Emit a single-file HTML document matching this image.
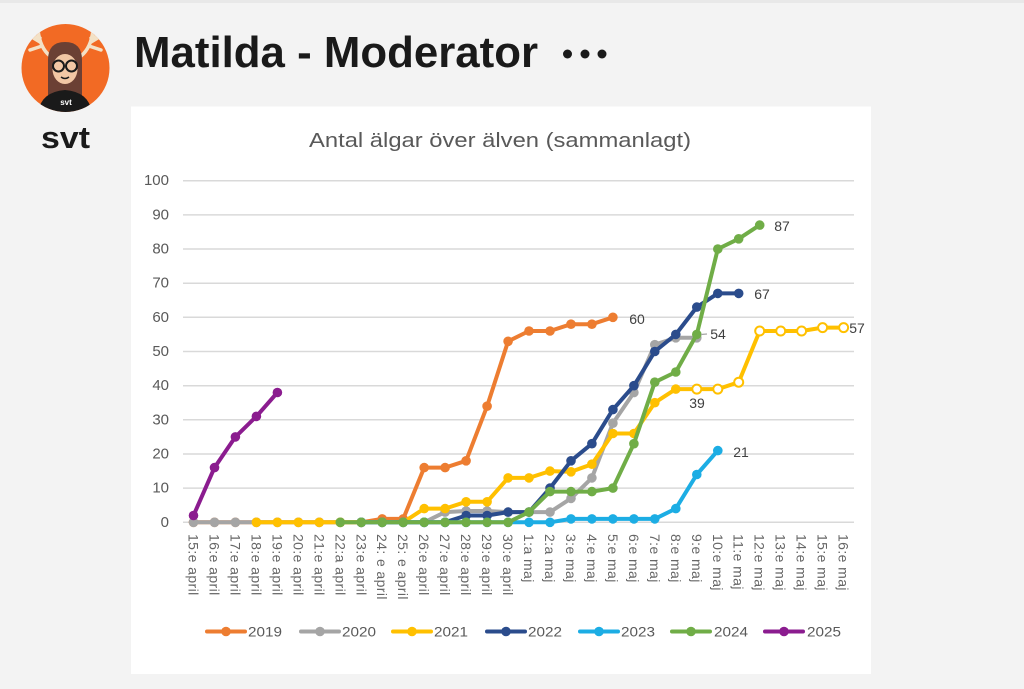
<!DOCTYPE html>
<html><head><meta charset="utf-8"><style>
html,body{margin:0;padding:0;background:#f3f3f3;}
svg{display:block;}
text{font-family:"Liberation Sans",sans-serif;}
</style></head><body>
<svg width="1024" height="689" viewBox="0 0 1024 689" xmlns="http://www.w3.org/2000/svg">
<defs>
<clipPath id="av"><circle cx="65.5" cy="68" r="44"/></clipPath>
<marker id="mo" markerWidth="12" markerHeight="12" refX="6" refY="6" markerUnits="userSpaceOnUse"><circle cx="6" cy="6" r="4.8" fill="#ED7D31"/></marker>
<marker id="mg" markerWidth="12" markerHeight="12" refX="6" refY="6" markerUnits="userSpaceOnUse"><circle cx="6" cy="6" r="4.8" fill="#A5A5A5"/></marker>
<marker id="my" markerWidth="12" markerHeight="12" refX="6" refY="6" markerUnits="userSpaceOnUse"><circle cx="6" cy="6" r="4.8" fill="#FFC000"/></marker>
<marker id="mb" markerWidth="12" markerHeight="12" refX="6" refY="6" markerUnits="userSpaceOnUse"><circle cx="6" cy="6" r="4.8" fill="#2B4C8C"/></marker>
<marker id="mc" markerWidth="12" markerHeight="12" refX="6" refY="6" markerUnits="userSpaceOnUse"><circle cx="6" cy="6" r="4.8" fill="#1CADE4"/></marker>
<marker id="mgr" markerWidth="12" markerHeight="12" refX="6" refY="6" markerUnits="userSpaceOnUse"><circle cx="6" cy="6" r="4.8" fill="#70AD47"/></marker>
<marker id="mp" markerWidth="12" markerHeight="12" refX="6" refY="6" markerUnits="userSpaceOnUse"><circle cx="6" cy="6" r="4.8" fill="#8B1C8F"/></marker>
</defs>

<rect x="0" y="0" width="1024" height="689" fill="#f3f3f3"/>
<rect x="0" y="0" width="1024" height="3" fill="#e8e8e8"/>

<!-- avatar -->
<circle cx="65.5" cy="68" r="44" fill="#F26A24"/>
<g clip-path="url(#av)">
  <path d="M50 56 Q40 48 38 30 M42 46 L30 50 M40 38 L34 36 M40 42 L30 36" stroke="#F3E1C6" stroke-width="3.5" stroke-linecap="round" fill="none"/>
  <path d="M81 56 Q91 48 93 30 M89 46 L101 50 M91 38 L97 36 M91 42 L101 36" stroke="#F3E1C6" stroke-width="3.5" stroke-linecap="round" fill="none"/>
  <path d="M48 100 L48 60 Q48 42 65 42 Q82 42 82 60 L82 100 Z" fill="#6B4034"/>
  <ellipse cx="65" cy="69" rx="12.5" ry="15" fill="#F2C7A4"/>
  <path d="M50 56 Q60 46 80 56 L80 52 Q65 40 50 52 Z" fill="#6B4034"/>
  <circle cx="58.5" cy="66" r="5.5" fill="none" stroke="#1a1a1a" stroke-width="2"/>
  <circle cx="71.5" cy="66" r="5.5" fill="none" stroke="#1a1a1a" stroke-width="2"/>
  <path d="M61 77 Q65 80 69 77" stroke="#1a1a1a" stroke-width="1.5" fill="none"/>
  <path d="M38 114 Q40 92 65 90 Q90 92 92 114 Z" fill="#1a1a1a"/>
  <text x="66" y="105" font-size="8" fill="#ffffff" text-anchor="middle" font-weight="bold">svt</text>
</g>
<text x="41" y="148" font-size="31" font-weight="bold" fill="#1a1a1a" textLength="49" lengthAdjust="spacingAndGlyphs">svt</text>

<!-- header -->
<text x="134" y="67" font-size="44" font-weight="bold" fill="#1a1a1a" textLength="404" lengthAdjust="spacingAndGlyphs">Matilda - Moderator</text>
<circle cx="567.5" cy="54" r="4.5" fill="#1a1a1a"/>
<circle cx="585" cy="54" r="4.5" fill="#1a1a1a"/>
<circle cx="602" cy="54" r="4.5" fill="#1a1a1a"/>

<!-- chart panel -->
<rect x="131" y="106.5" width="740" height="567.5" fill="#ffffff"/>
<text x="500" y="147" font-size="20" fill="#595959" text-anchor="middle" textLength="382" lengthAdjust="spacingAndGlyphs">Antal älgar över älven (sammanlagt)</text>

<!-- grid -->
<g stroke="#d9d9d9" stroke-width="1.5">
<line x1="183" x2="854" y1="180.7" y2="180.7"/>
<line x1="183" x2="854" y1="214.9" y2="214.9"/>
<line x1="183" x2="854" y1="249.0" y2="249.0"/>
<line x1="183" x2="854" y1="283.2" y2="283.2"/>
<line x1="183" x2="854" y1="317.3" y2="317.3"/>
<line x1="183" x2="854" y1="351.5" y2="351.5"/>
<line x1="183" x2="854" y1="385.7" y2="385.7"/>
<line x1="183" x2="854" y1="419.8" y2="419.8"/>
<line x1="183" x2="854" y1="454.0" y2="454.0"/>
<line x1="183" x2="854" y1="488.1" y2="488.1"/>
<line x1="183" x2="854" y1="522.3" y2="522.3"/>
</g>
<g font-size="15" fill="#595959" text-anchor="end" dominant-baseline="central">
<text x="169" y="180.7">100</text>
<text x="169" y="214.9">90</text>
<text x="169" y="249.0">80</text>
<text x="169" y="283.2">70</text>
<text x="169" y="317.3">60</text>
<text x="169" y="351.5">50</text>
<text x="169" y="385.7">40</text>
<text x="169" y="419.8">30</text>
<text x="169" y="454.0">20</text>
<text x="169" y="488.1">10</text>
<text x="169" y="522.3">0</text>
</g>

<!-- x labels -->
<g font-size="14" fill="#666666" dominant-baseline="central" letter-spacing="0.4">
<text transform="translate(193.5,534) rotate(90)">15:e april</text>
<text transform="translate(214.5,534) rotate(90)">16:e april</text>
<text transform="translate(235.4,534) rotate(90)">17:e april</text>
<text transform="translate(256.4,534) rotate(90)">18:e april</text>
<text transform="translate(277.4,534) rotate(90)">19:e april</text>
<text transform="translate(298.4,534) rotate(90)">20:e april</text>
<text transform="translate(319.3,534) rotate(90)">21:e april</text>
<text transform="translate(340.3,534) rotate(90)">22:a april</text>
<text transform="translate(361.3,534) rotate(90)">23:e april</text>
<text transform="translate(382.2,534) rotate(90)">24: e april</text>
<text transform="translate(403.2,534) rotate(90)">25: e april</text>
<text transform="translate(424.2,534) rotate(90)">26:e april</text>
<text transform="translate(445.1,534) rotate(90)">27:e april</text>
<text transform="translate(466.1,534) rotate(90)">28:e april</text>
<text transform="translate(487.1,534) rotate(90)">29:e april</text>
<text transform="translate(508.1,534) rotate(90)">30:e april</text>
<text transform="translate(529.0,534) rotate(90)">1:a maj</text>
<text transform="translate(550.0,534) rotate(90)">2:a maj</text>
<text transform="translate(571.0,534) rotate(90)">3:e maj</text>
<text transform="translate(591.9,534) rotate(90)">4:e maj</text>
<text transform="translate(612.9,534) rotate(90)">5:e maj</text>
<text transform="translate(633.9,534) rotate(90)">6:e maj</text>
<text transform="translate(654.8,534) rotate(90)">7:e maj</text>
<text transform="translate(675.8,534) rotate(90)">8:e maj</text>
<text transform="translate(696.8,534) rotate(90)">9:e maj</text>
<text transform="translate(717.8,534) rotate(90)">10:e maj</text>
<text transform="translate(738.7,534) rotate(90)">11:e maj</text>
<text transform="translate(759.7,534) rotate(90)">12:e maj</text>
<text transform="translate(780.7,534) rotate(90)">13:e maj</text>
<text transform="translate(801.6,534) rotate(90)">14:e maj</text>
<text transform="translate(822.6,534) rotate(90)">15:e maj</text>
<text transform="translate(843.6,534) rotate(90)">16:e maj</text>
</g>

<!-- series -->
<g fill="none" stroke-width="4" stroke-linejoin="round" stroke-linecap="round">
<polyline stroke="#ED7D31" marker-start="url(#mo)" marker-mid="url(#mo)" marker-end="url(#mo)" points="193.5,522.3 214.5,522.3 235.4,522.3 256.4,522.3 277.4,522.3 298.4,522.3 319.3,522.3 340.3,522.3 361.3,522.3 382.2,518.9 403.2,518.9 424.2,467.6 445.1,467.6 466.1,460.8 487.1,406.2 508.1,341.3 529.0,331.0 550.0,331.0 571.0,324.2 591.9,324.2 612.9,317.3"/>
<polyline stroke="#A5A5A5" marker-start="url(#mg)" marker-mid="url(#mg)" marker-end="url(#mg)" points="193.5,522.3 214.5,522.3 235.4,522.3 256.4,522.3 277.4,522.3 298.4,522.3 319.3,522.3 340.3,522.3 361.3,522.3 382.2,522.3 403.2,522.3 424.2,522.3 445.1,512.1 466.1,511.0 487.1,511.0 508.1,512.1 529.0,512.1 550.0,512.1 571.0,498.4 591.9,477.9 612.9,423.2 633.9,392.5 654.8,344.7 675.8,337.8 696.8,337.8"/>
<polyline stroke="#FFC000" marker-start="url(#my)" marker-mid="url(#my)" marker-end="url(#my)" points="256.4,522.3 277.4,522.3 298.4,522.3 319.3,522.3 340.3,522.3 361.3,522.3 382.2,522.3 403.2,522.3 424.2,508.6 445.1,508.6 466.1,501.8 487.1,501.8 508.1,477.9 529.0,477.9 550.0,471.1 571.0,471.8 591.9,464.2 612.9,433.5 633.9,433.5 654.8,402.7 675.8,389.1"/>
<polyline stroke="#FFC000" points="675.8,389.1 696.8,389.1 717.8,389.1 738.7,382.2 759.7,331.0 780.7,331.0 801.6,331.0 822.6,327.6 843.6,327.6"/>
<g fill="#ffffff" stroke="#FFC000" stroke-width="2">
<circle cx="696.8" cy="389.1" r="4.5"/>
<circle cx="717.8" cy="389.1" r="4.5"/>
<circle cx="738.7" cy="382.2" r="4.5"/>
<circle cx="759.7" cy="331.0" r="4.5"/>
<circle cx="780.7" cy="331.0" r="4.5"/>
<circle cx="801.6" cy="331.0" r="4.5"/>
<circle cx="822.6" cy="327.6" r="4.5"/>
<circle cx="843.6" cy="327.6" r="4.5"/>
</g>
<polyline stroke="#2B4C8C" marker-start="url(#mb)" marker-mid="url(#mb)" marker-end="url(#mb)" points="361.3,522.3 382.2,522.3 403.2,522.3 424.2,522.3 445.1,522.3 466.1,515.5 487.1,515.5 508.1,512.1 529.0,512.1 550.0,488.1 571.0,460.8 591.9,443.7 612.9,409.6 633.9,385.7 654.8,351.5 675.8,334.4 696.8,307.1 717.8,293.4 738.7,293.4"/>
<polyline stroke="#1CADE4" marker-start="url(#mc)" marker-mid="url(#mc)" marker-end="url(#mc)" points="361.3,522.3 382.2,522.3 403.2,522.3 424.2,522.3 445.1,522.3 466.1,522.3 487.1,522.3 508.1,522.3 529.0,522.3 550.0,522.3 571.0,518.9 591.9,518.9 612.9,518.9 633.9,518.9 654.8,518.9 675.8,508.6 696.8,474.5 717.8,450.6"/>
<polyline stroke="#70AD47" marker-start="url(#mgr)" marker-mid="url(#mgr)" marker-end="url(#mgr)" points="340.3,522.3 361.3,522.3 382.2,522.3 403.2,522.3 424.2,522.3 445.1,522.3 466.1,522.3 487.1,522.3 508.1,522.3 529.0,512.1 550.0,491.6 571.0,491.6 591.9,491.6 612.9,488.1 633.9,443.7 654.8,382.2 675.8,372.0 696.8,334.4 717.8,249.0 738.7,238.8 759.7,225.1"/>
<polyline stroke="#8B1C8F" marker-start="url(#mp)" marker-mid="url(#mp)" marker-end="url(#mp)" points="193.5,515.5 214.5,467.6 235.4,436.9 256.4,416.4 277.4,392.5"/>
</g>

<!-- data labels -->
<line x1="701" y1="334.5" x2="707" y2="334" stroke="#A5A5A5" stroke-width="1.2"/>
<g font-size="14" fill="#404040" text-anchor="middle" dominant-baseline="central">
<text x="637" y="319">60</text>
<text x="782" y="226">87</text>
<text x="762" y="294">67</text>
<text x="718" y="334">54</text>
<text x="697" y="403">39</text>
<text x="741" y="452">21</text>
<text x="857" y="328">57</text>
</g>

<!-- legend -->
<g stroke-width="4" stroke-linecap="round">
<line x1="207" x2="245" y1="631.5" y2="631.5" stroke="#ED7D31"/>
<line x1="301" x2="339" y1="631.5" y2="631.5" stroke="#A5A5A5"/>
<line x1="393" x2="431" y1="631.5" y2="631.5" stroke="#FFC000"/>
<line x1="487" x2="525" y1="631.5" y2="631.5" stroke="#2B4C8C"/>
<line x1="580" x2="618" y1="631.5" y2="631.5" stroke="#1CADE4"/>
<line x1="672" x2="710" y1="631.5" y2="631.5" stroke="#70AD47"/>
<line x1="765" x2="803" y1="631.5" y2="631.5" stroke="#8B1C8F"/>
</g>
<circle cx="226" cy="631.5" r="4.8" fill="#ED7D31"/>
<circle cx="320" cy="631.5" r="4.8" fill="#A5A5A5"/>
<circle cx="412" cy="631.5" r="4.8" fill="#FFC000"/>
<circle cx="506" cy="631.5" r="4.8" fill="#2B4C8C"/>
<circle cx="599" cy="631.5" r="4.8" fill="#1CADE4"/>
<circle cx="691" cy="631.5" r="4.8" fill="#70AD47"/>
<circle cx="784" cy="631.5" r="4.8" fill="#8B1C8F"/>
<g font-size="14" fill="#595959" dominant-baseline="central">
<text x="248" y="631.5" textLength="34" lengthAdjust="spacingAndGlyphs">2019</text>
<text x="342" y="631.5" textLength="34" lengthAdjust="spacingAndGlyphs">2020</text>
<text x="434" y="631.5" textLength="34" lengthAdjust="spacingAndGlyphs">2021</text>
<text x="528" y="631.5" textLength="34" lengthAdjust="spacingAndGlyphs">2022</text>
<text x="621" y="631.5" textLength="34" lengthAdjust="spacingAndGlyphs">2023</text>
<text x="714" y="631.5" textLength="34" lengthAdjust="spacingAndGlyphs">2024</text>
<text x="807" y="631.5" textLength="34" lengthAdjust="spacingAndGlyphs">2025</text>
</g>
</svg>
</body></html>
